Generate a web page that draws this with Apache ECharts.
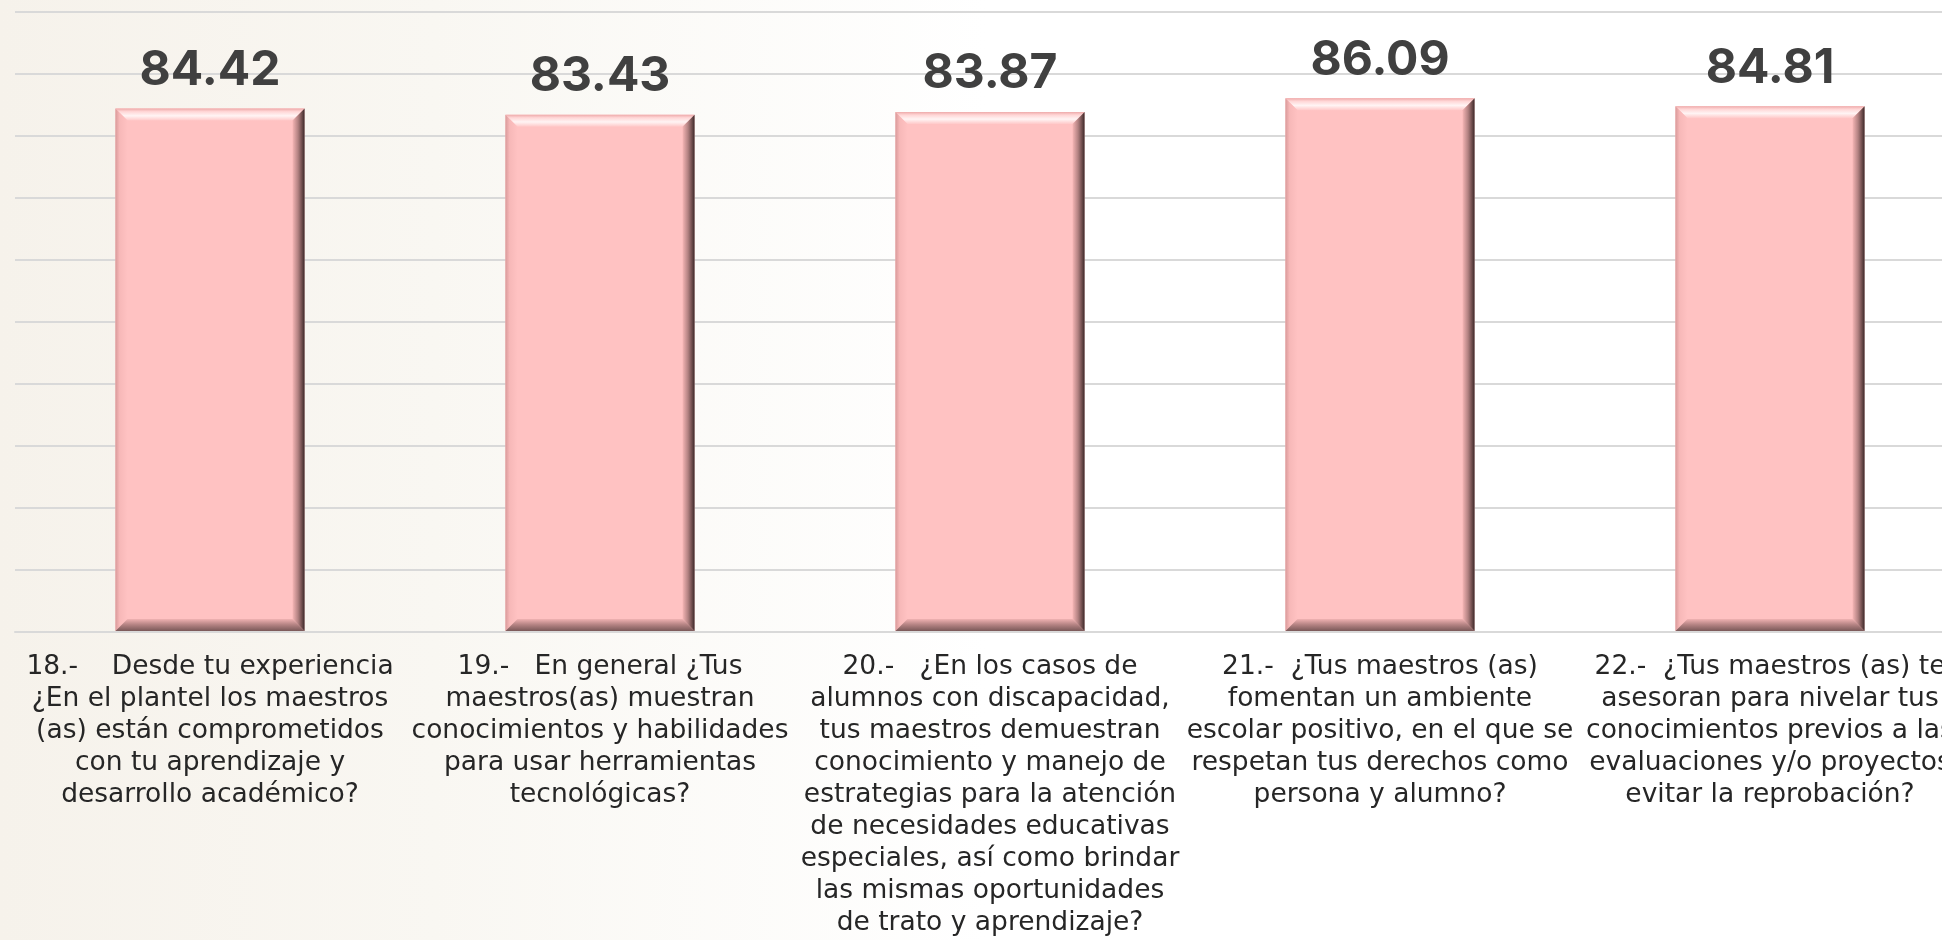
<!DOCTYPE html>
<html>
<head>
<meta charset="utf-8">
<title>Resultados</title>
<script src="https://cdn.jsdelivr.net/npm/echarts@6/dist/echarts.min.js"></script>
<style>
  html, body { margin: 0; padding: 0; background: #fff; overflow: hidden; }
  /* el gráfico original queda recortado por la derecha */
  #chart { width: 1972px; height: 940px; }
</style>
</head>
<body>
<div id="chart"></div>
<script>
// preguntas (eje x)
const categories = [
  '18.-    Desde tu experiencia\n¿En el plantel los maestros\n(as) están comprometidos\ncon tu aprendizaje y\ndesarrollo académico?',
  '19.-   En general ¿Tus\nmaestros(as) muestran\nconocimientos y habilidades\npara usar herramientas\ntecnológicas?',
  '20.-   ¿En los casos de\nalumnos con discapacidad,\ntus maestros demuestran\nconocimiento y manejo de\nestrategias para la atención\nde necesidades educativas\nespeciales, así como brindar\nlas mismas oportunidades\nde trato y aprendizaje?',
  '21.-  ¿Tus maestros (as)\nfomentan un ambiente\nescolar positivo, en el que se\nrespetan tus derechos como\npersona y alumno?',
  '22.-  ¿Tus maestros (as) te\nasesoran para nivelar tus\nconocimientos previos a las\nevaluaciones y/o proyectos\nevitar la reprobación?'
]

// puntaje por pregunta
const scores = [84.42, 83.43, 83.87, 86.09, 84.81]

// escala del eje y (sin etiquetas visibles)
const yMin = 0
const yMax = 100
const yStep = 10

const chartDom = document.getElementById('chart')
const mychart = echarts.init(chartDom)

const PINK = '#ffc2c2'

// barra con bisel (como el estilo de Excel)
const renderBevelBar = (params, api) => {
  const idx = api.value(0)
  const val = api.value(1)
  const top = api.coord([idx, val])
  const base = api.coord([idx, 0])
  const bw = api.size([1, 0])[0] * 0.485
  const x0 = top[0] - bw / 2
  const x1 = top[0] + bw / 2
  const y0 = top[1]
  const y1 = base[1] - 1
  const b = 12
  const LG = echarts.graphic.LinearGradient

  return {
    type: 'group',
    children: [
      {
        type: 'rect',
        shape: { x: x0, y: y0, width: bw, height: y1 - y0 },
        style: { fill: PINK }
      },
      {
        // bisel superior (brillo)
        type: 'polygon',
        shape: { points: [[x0, y0], [x1, y0], [x1 - b, y0 + b], [x0 + b, y0 + b]] },
        style: {
          fill: new LG(0, 0, 0, 1, [
            { offset: 0, color: '#eeaaaa' },
            { offset: 0.25, color: '#ffd6d6' },
            { offset: 0.6, color: '#fff4f4' },
            { offset: 1, color: '#ffc8c8' }
          ])
        }
      },
      {
        // bisel izquierdo
        type: 'polygon',
        shape: { points: [[x0, y0], [x0 + b, y0 + b], [x0 + b, y1 - b], [x0, y1]] },
        style: {
          fill: new LG(0, 0, 1, 0, [
            { offset: 0, color: '#d99a9a' },
            { offset: 0.35, color: '#f7b8b8' },
            { offset: 1, color: PINK }
          ])
        }
      },
      {
        // bisel inferior (sombra)
        type: 'polygon',
        shape: { points: [[x0, y1], [x1, y1], [x1 - b, y1 - b], [x0 + b, y1 - b]] },
        style: {
          fill: new LG(0, 0, 0, 1, [
            { offset: 0, color: '#f0b2b2' },
            { offset: 0.45, color: '#b78585' },
            { offset: 1, color: '#7a5858' }
          ])
        }
      },
      {
        // bisel derecho (sombra)
        type: 'polygon',
        shape: { points: [[x1, y0], [x1, y1], [x1 - b, y1 - b], [x1 - b, y0 + b]] },
        style: {
          fill: new LG(0, 0, 1, 0, [
            { offset: 0, color: '#f5b5b5' },
            { offset: 0.45, color: '#b38282' },
            { offset: 0.8, color: '#6a4a4a' },
            { offset: 1, color: '#3a2828' }
          ])
        }
      },
      {
        type: 'text',
        style: {
          x: top[0],
          y: y0 - 14,
          text: val.toFixed(2),
          align: 'center',
          verticalAlign: 'bottom',
          fill: '#404040',
          fontFamily: 'Inter',
          fontWeight: 'bold',
          fontSize: 48
        }
      }
    ]
  }
}

mychart.setOption({
  backgroundColor: new echarts.graphic.LinearGradient(0, 0, 1, 0, [
    { offset: 0, color: '#f6f2eb' },
    { offset: 0.22, color: '#f9f7f2' },
    { offset: 0.5, color: '#ffffff' },
    { offset: 1, color: '#ffffff' }
  ]),
  animation: false,
  grid: {
    left: 15,
    top: 12,
    width: 1950,
    height: 620,
    containLabel: false
  },
  xAxis: {
    type: 'category',
    data: categories,
    axisTick: { show: false },
    axisLine: {
      lineStyle: { color: '#d9d9d9', width: 2 }
    },
    axisLabel: {
      interval: 0,
      margin: 19,
      color: '#262626',
      fontFamily: 'DejaVu Sans',
      fontSize: 26.5,
      lineHeight: 32,
      align: 'center'
    }
  },
  yAxis: {
    type: 'value',
    min: yMin,
    max: yMax,
    interval: yStep,
    axisLabel: { show: false },
    axisLine: { show: false },
    axisTick: { show: false },
    splitLine: {
      lineStyle: { color: '#d9d9d9', width: 2 }
    }
  },
  series: [
    {
      type: 'custom',
      renderItem: renderBevelBar,
      encode: { x: 0, y: 1 },
      data: scores.map((v, i) => [i, v]),
      z: 3
    }
  ]
})
</script>
</body>
</html>
